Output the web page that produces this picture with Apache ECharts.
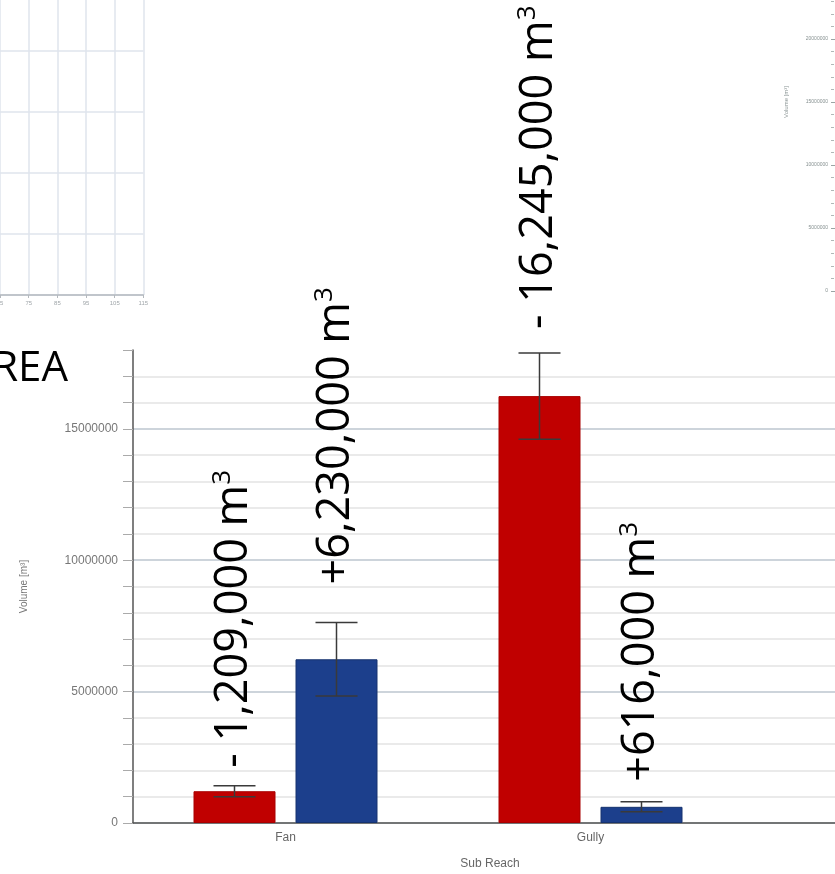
<!DOCTYPE html>
<html>
<head>
<meta charset="utf-8">
<script src="https://cdn.jsdelivr.net/npm/echarts@6/dist/echarts.min.js"></script>
<style>
  html, body { margin: 0; padding: 0; background: #fff; }
  #chart { width: 835px; height: 874px; }
</style>
</head>
<body>
<div id="chart"></div>
<script>
// Sub-reach volumes (m³): erosion (removed) and deposition (added)
const subReaches = ['Fan', 'Gully', ''];
const erosion = [1209000, 16245000];
const deposition = [6230000, 616000];
const erosionErr = [210000, 1640000];
const depositionErr = [1400000, 190000];

// Tick settings
const volumeMax = 18000000;
const volumeMinor = 1000000;
const volumeMajor = 5000000;
const insetXMin = 55, insetXMax = 115, insetXStep = 10;
const insetYMax = 5;
const sideAxisMax = 30000000;

// Bar geometry and styling
const BAR_W = 82, BAR_GAP = 20, CAP_W = 42;
const RED = '#c00000', BLUE = '#1c3f8c';
const labelGapErosion = [18, 24];
const labelGapDeposition = [38, 20];
const AXIS_FONT = 'Liberation Sans';
const LABEL_FONT = 'Open Sans';

function volumeLabel(sign, v) {
  return '{n|' + sign + v.toLocaleString('en-US') + ' m}{s|3}';
}

function errorSeries(values, errs, sign, dx, gaps) {
  return {
    type: 'custom',
    xAxisIndex: 2,
    yAxisIndex: 2,
    z: 5,
    silent: true,
    data: values.map((v, i) => [i, v, errs[i]]),
    encode: { x: 0, y: 1 },
    renderItem(params, api) {
      const i = api.value(0), v = api.value(1), e = api.value(2);
      const hi = api.coord([i, v + e]);
      const lo = api.coord([i, v - e]);
      const x = hi[0] + dx;
      const h = CAP_W / 2;
      const ls = { stroke: '#3a3a3a', lineWidth: 1.5 };
      return {
        type: 'group',
        children: [
          { type: 'line', shape: { x1: x, y1: hi[1], x2: x, y2: lo[1] }, style: ls },
          { type: 'line', shape: { x1: x - h, y1: hi[1], x2: x + h, y2: hi[1] }, style: ls },
          { type: 'line', shape: { x1: x - h, y1: lo[1], x2: x + h, y2: lo[1] }, style: ls },
          {
            type: 'text',
            x: x,
            y: hi[1] - gaps[i],
            rotation: Math.PI / 2,
            style: {
              text: volumeLabel(sign, v),
              fill: '#000',
              fontFamily: LABEL_FONT,
              fontSize: 45,
              align: 'left',
              verticalAlign: 'middle',
              rich: {
                n: { fontFamily: LABEL_FONT, fontSize: 45, lineHeight: 50, fill: '#000' },
                s: { fontFamily: LABEL_FONT, fontSize: 26, lineHeight: 40, fill: '#000', verticalAlign: 'top' }
              }
            }
          }
        ]
      };
    }
  };
}

const chart = echarts.init(document.getElementById('chart'));
const dx = (BAR_W + BAR_GAP) / 2;

chart.setOption({
  animation: false,
  backgroundColor: '#fff',
  title: [
    {
      text: 'REA', right: 767, top: 348, padding: 0,
      textStyle: { fontFamily: LABEL_FONT, fontSize: 42, fontWeight: 'normal', color: '#000' }
    },
    {
      text: 'Sub Reach', left: 490, top: 858, textAlign: 'center', padding: 0,
      textStyle: { fontFamily: AXIS_FONT, fontSize: 12, fontWeight: 'normal', color: '#666' }
    }
  ],
  grid: [
    { left: -28.6, top: -10, width: 172, height: 305, outerBoundsMode: 'none' },
    { left: 831, top: -87, width: 100, height: 378, outerBoundsMode: 'none' },
    { left: 133, top: 350, width: 915, height: 473, outerBoundsMode: 'none' }
  ],
  xAxis: [
    {
      gridIndex: 0, type: 'value', min: insetXMin, max: insetXMax, interval: insetXStep,
      axisLine: { lineStyle: { color: '#b4b9be', width: 1.5 } },
      axisTick: { length: 3, lineStyle: { color: '#b4b9be' } },
      axisLabel: { fontFamily: AXIS_FONT, fontSize: 6, color: '#a0a6aa', margin: 5 },
      splitLine: { lineStyle: { color: '#dfe5ec', width: 1.5 } }
    },
    { gridIndex: 1, type: 'value', show: false },
    {
      gridIndex: 2, type: 'category', data: subReaches,
      axisLine: { lineStyle: { color: '#555', width: 1.5 } },
      axisTick: { length: 6, lineStyle: { color: '#555' } },
      axisLabel: { interval: 0, fontFamily: AXIS_FONT, fontSize: 12, color: '#666', margin: 9 },
      splitLine: { show: false }
    }
  ],
  yAxis: [
    {
      gridIndex: 0, type: 'value', min: 0, max: insetYMax, interval: 1,
      axisLine: { show: false }, axisTick: { show: false }, axisLabel: { show: false },
      splitLine: { lineStyle: { color: '#dfe5ec', width: 1.5 } }
    },
    {
      gridIndex: 1, type: 'value', min: 0, max: sideAxisMax, interval: volumeMajor,
      name: 'Volume [m³]', nameLocation: 'middle', nameGap: 42,
      nameTextStyle: { fontFamily: AXIS_FONT, fontSize: 6, color: '#8a9494' },
      axisLine: { show: false },
      axisTick: { show: true, inside: true, length: 4, lineStyle: { color: '#9aa4a4' } },
      minorTick: { show: true, splitNumber: 5, length: 3, lineStyle: { color: '#b0b8b8' } },
      axisLabel: {
        fontFamily: AXIS_FONT, fontSize: 5, color: '#869090', margin: 3,
        formatter: v => String(v)
      },
      splitLine: { show: false }
    },
    {
      gridIndex: 2, type: 'value', min: 0, max: volumeMax, interval: volumeMinor,
      name: 'Volume [m³]', nameLocation: 'middle', nameGap: 104,
      nameTextStyle: { fontFamily: AXIS_FONT, fontSize: 10, color: '#777' },
      axisLine: { show: true, lineStyle: { color: '#555', width: 1.5 } },
      axisTick: { show: true, length: 10, lineStyle: { color: '#aaa' } },
      axisLabel: {
        fontFamily: AXIS_FONT, fontSize: 12, color: '#777', margin: 15,
        formatter: v => (v % volumeMajor === 0 ? String(v) : '')
      },
      splitLine: {
        show: true, showMinLine: true, showMaxLine: false,
        lineStyle: { color: ['#bcc6cf', '#e3e3e3', '#e3e3e3', '#e3e3e3', '#e3e3e3'], width: 1.5 }
      }
    }
  ],
  series: [
    {
      type: 'bar', xAxisIndex: 2, yAxisIndex: 2, data: erosion,
      barWidth: BAR_W, barGap: (BAR_GAP / BAR_W * 100) + '%',
      itemStyle: { color: RED, borderColor: '#a80000', borderWidth: 1 }
    },
    {
      type: 'bar', xAxisIndex: 2, yAxisIndex: 2, data: deposition,
      barWidth: BAR_W, barGap: (BAR_GAP / BAR_W * 100) + '%',
      itemStyle: { color: BLUE, borderColor: '#16336f', borderWidth: 1 }
    },
    errorSeries(erosion, erosionErr, '- ', -dx, labelGapErosion),
    errorSeries(deposition, depositionErr, '+', dx, labelGapDeposition)
  ]
});
</script>
</body>
</html>
